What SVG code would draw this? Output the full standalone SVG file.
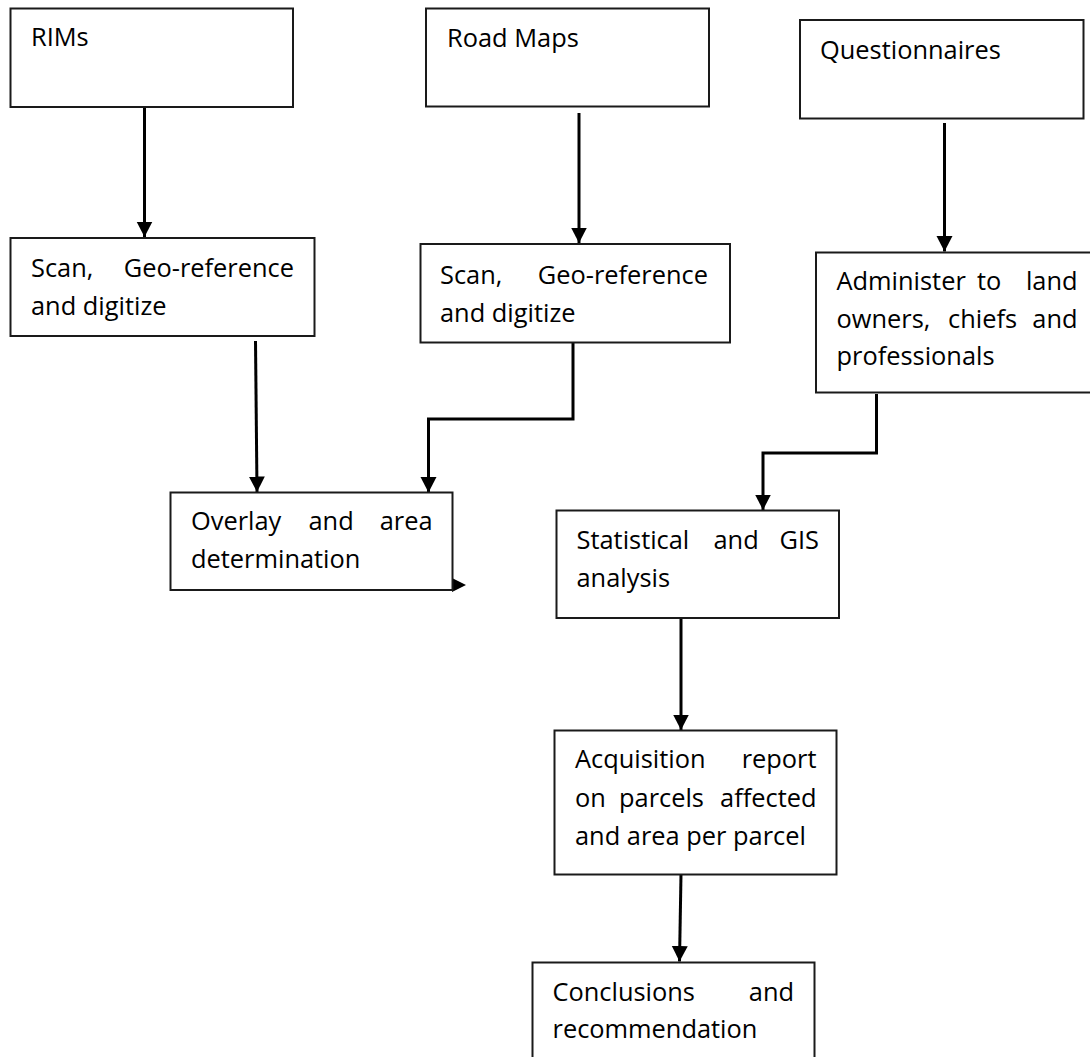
<svg xmlns="http://www.w3.org/2000/svg" width="1090" height="1057" viewBox="0 0 1090 1057">
<style>
  .box { fill: #ffffff; stroke: #1a1a1a; stroke-width: 2; }
  .lbl { font-family: "Open Sans", "Liberation Sans", sans-serif; font-size: 25.4px; fill: #000000; }
  .end { text-anchor: end; }
  .conn { fill: none; stroke: #000000; stroke-width: 3; }
</style>
<defs>
  <marker id="ah" markerUnits="userSpaceOnUse" markerWidth="17" markerHeight="17" refX="15.5" refY="8" orient="auto">
    <path d="M0,0 L15.5,8 L0,16 Z" fill="#000000"/>
  </marker>
</defs>
<rect width="1090" height="1057" fill="#ffffff"/>

<g id="connectors">
  <line class="conn" x1="144.5" y1="108" x2="144.5" y2="237" marker-end="url(#ah)"/>
  <line class="conn" x1="579" y1="113" x2="579" y2="243" marker-end="url(#ah)"/>
  <line class="conn" x1="944.5" y1="123" x2="944.5" y2="251.5" marker-end="url(#ah)"/>
  <line class="conn" x1="255.5" y1="341" x2="257" y2="492" marker-end="url(#ah)"/>
  <polyline class="conn" points="573,343 573,419 428.5,419 428.5,492.5" marker-end="url(#ah)"/>
  <polyline class="conn" points="876.5,394 876.5,453 763,453 763,510" marker-end="url(#ah)"/>
  <line class="conn" x1="681" y1="614" x2="681" y2="730" marker-end="url(#ah)"/>
  <line class="conn" x1="681" y1="874" x2="679.5" y2="961.5" marker-end="url(#ah)"/>
  <polygon points="452,578 466,585 452,592" fill="#000000"/>
</g>

<g id="rims">
  <rect class="box" x="10.5" y="8.5" width="282.5" height="98.5"/>
  <text class="lbl" x="31" y="46">RIMs</text>
</g>

<g id="road-maps">
  <rect class="box" x="426" y="8.5" width="283" height="98"/>
  <text class="lbl" x="447" y="46.5">Road Maps</text>
</g>

<g id="questionnaires">
  <rect class="box" x="800" y="20" width="283.5" height="98.5"/>
  <text class="lbl" x="820" y="59">Questionnaires</text>
</g>

<g id="scan-rims">
  <rect class="box" x="10.5" y="238" width="304" height="98"/>
  <text class="lbl" x="31" y="277">Scan,</text>
  <text class="lbl end" x="294" y="277">Geo-reference</text>
  <text class="lbl" x="31" y="315">and digitize</text>
</g>

<g id="scan-road">
  <rect class="box" x="420.5" y="244" width="309.5" height="98.5"/>
  <text class="lbl" x="440" y="284">Scan,</text>
  <text class="lbl end" x="708" y="284">Geo-reference</text>
  <text class="lbl" x="440" y="321.5">and digitize</text>
</g>

<g id="administer">
  <rect class="box" x="816" y="252.5" width="280" height="140"/>
  <text class="lbl" x="836.5" y="290">Administer</text>
  <text class="lbl" x="977" y="290">to</text>
  <text class="lbl end" x="1077.5" y="290">land</text>
  <text class="lbl" x="836.5" y="327.5">owners,</text>
  <text class="lbl" x="948" y="327.5">chiefs</text>
  <text class="lbl end" x="1077.5" y="327.5">and</text>
  <text class="lbl" x="836.5" y="365">professionals</text>
</g>

<g id="overlay">
  <rect class="box" x="170.5" y="492.5" width="282" height="97.5"/>
  <text class="lbl" x="191" y="530">Overlay</text>
  <text class="lbl" x="308.5" y="530">and</text>
  <text class="lbl end" x="432.5" y="530">area</text>
  <text class="lbl" x="191" y="568">determination</text>
</g>

<g id="statistical">
  <rect class="box" x="556.5" y="510.5" width="282.5" height="107.5"/>
  <text class="lbl" x="576.5" y="549">Statistical</text>
  <text class="lbl" x="713.5" y="549">and</text>
  <text class="lbl end" x="819" y="549">GIS</text>
  <text class="lbl" x="576.5" y="586.5">analysis</text>
</g>

<g id="acquisition">
  <rect class="box" x="554.5" y="730.5" width="282" height="144"/>
  <text class="lbl" x="575" y="768">Acquisition</text>
  <text class="lbl end" x="816.5" y="768">report</text>
  <text class="lbl" x="575" y="806.5">on</text>
  <text class="lbl" x="619" y="806.5">parcels</text>
  <text class="lbl end" x="816.5" y="806.5">affected</text>
  <text class="lbl" x="575" y="845">and area per parcel</text>
</g>

<g id="conclusions">
  <rect class="box" x="532.5" y="962.5" width="282" height="110"/>
  <text class="lbl" x="552.5" y="1000.5">Conclusions</text>
  <text class="lbl end" x="794" y="1000.5">and</text>
  <text class="lbl" x="552.5" y="1038">recommendation</text>
</g>
</svg>
